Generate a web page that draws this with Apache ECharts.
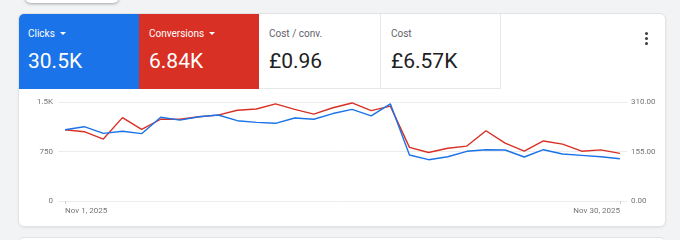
<!DOCTYPE html>
<html>
<head>
<meta charset="utf-8">
<script src="https://cdn.jsdelivr.net/npm/echarts@6/dist/echarts.min.js"></script>
<style>
  html, body { margin: 0; padding: 0; }
  body { width: 680px; height: 240px; background: #f1f3f4; position: relative; overflow: hidden; font-family: Roboto, "Noto Sans", sans-serif; }
  .ghost-top { position: absolute; left: 25px; top: -20px; width: 94px; height: 23px; background: #fff; border-radius: 6px; box-shadow: 0 1px 3px rgba(60,64,67,.45); }
  .ghost-bottom { position: absolute; left: 18px; top: 237px; width: 648px; height: 20px; background: #fff; border: 1px solid #e3e3e3; border-radius: 6px; box-sizing: border-box; }
  .card { position: absolute; left: 18px; top: 13px; width: 648px; height: 214px; background: #fff; border: 1px solid #e3e3e3; border-radius: 6px; box-sizing: border-box; box-shadow: 0 1px 2px rgba(60,64,67,.08); overflow: hidden; }
  .tile { position: absolute; top: -1px; height: 76px; box-sizing: border-box; }
  .tile .lbl { position: absolute; left: 10px; top: 15px; font-size: 10px; line-height: 12px; white-space: nowrap; }
  .tile .val { position: absolute; left: 10px; top: 36px; font-size: 21px; line-height: 24px; white-space: nowrap; }
  .blue { left: -1px; width: 121px; background: #1a73e8; color: #fff; }
  .red { left: 120px; width: 120px; background: #d93025; color: #fff; }
  .white { background: #fff; color: #202124; border-right: 1px solid #e8e8e8; border-bottom: 1px solid #e8e8e8; }
  .white .lbl { color: #5f6368; }
  .arrow { display: inline-block; width: 0; height: 0; margin-left: 5px; vertical-align: 2px; border-left: 3px solid transparent; border-right: 3px solid transparent; border-top: 3px solid #fff; }
  .dot { position: absolute; left: 626px; width: 3px; height: 3px; border-radius: 50%; background: #3c4043; }
  #chart { position: absolute; left: 0; top: 89px; width: 680px; height: 138px; }
</style>
</head>
<body>
<div class="ghost-top"></div>
<div class="ghost-bottom"></div>
<div class="card">
  <div class="tile blue"><div class="lbl">Clicks<span class="arrow"></span></div><div class="val">30.5K</div></div>
  <div class="tile red"><div class="lbl">Conversions<span class="arrow"></span></div><div class="val">6.84K</div></div>
  <div class="tile white" style="left:240px;width:122px;"><div class="lbl">Cost / conv.</div><div class="val">£0.96</div></div>
  <div class="tile white" style="left:362px;width:120px;"><div class="lbl">Cost</div><div class="val">£6.57K</div></div>
  <div class="dot" style="top:18px"></div>
  <div class="dot" style="top:23px"></div>
  <div class="dot" style="top:28px"></div>
</div>
<div id="chart"></div>
<script>
// Nov 1 .. Nov 30, 2025
const days = [];
for (let d = 1; d <= 30; d++) days.push("Nov " + d + ", 2025");

const clicks = [1080, 1126, 1025, 1056, 1020, 1268, 1225, 1277, 1303, 1217,
                1192, 1177, 1257, 1238, 1325, 1389, 1290, 1472, 697, 626,
                671, 753, 777, 773, 667, 777, 712, 692, 671, 641];
const conversions = [223, 217, 194, 261, 224, 256, 256, 264, 269, 284,
                     288, 304, 287, 272, 292, 307, 283, 297, 168, 152,
                     165, 172, 220, 181, 156, 188, 178, 156, 160, 149];

const leftTicks = [0, 750, 1500];
const leftTickLabels = ["0", "750", "1.5K"];
const rightTicks = [0, 155, 310];
const rightTickLabels = ["0.00", "155.00", "310.00"];
const first = 0, last = days.length - 1;

// two bottom x axes on the same scale: one for the left-aligned first date,
// one for the right-aligned last date
function dateAxis(idx, align) {
  return {
    type: "value",
    position: "bottom",
    min: -0.37,
    max: last + 0.37,
    splitLine: { show: false },
    axisLine: { show: false },
    axisTick: { show: true, customValues: [idx], length: 3, lineStyle: { color: "#d0d0d0" } },
    axisLabel: {
      customValues: [idx],
      align: align,
      margin: 6,
      color: "#757575",
      fontSize: 8,
      fontFamily: "Roboto",
      formatter: v => days[v]
    }
  };
}

let myChart = echarts.init(document.getElementById("chart"));
myChart.setOption({
  animation: false,
  grid: { left: 58, right: 53, top: 13, bottom: 26 },
  xAxis: [dateAxis(first, "left"), dateAxis(last, "right")],
  yAxis: [
    {
      type: "value",
      min: 0,
      max: 1500,
      interval: 750,
      axisLine: { show: false },
      axisTick: { show: false },
      splitLine: { lineStyle: { color: "#ececec", width: 1 } },
      axisLabel: {
        margin: 5,
        color: "#757575",
        fontSize: 8,
        fontFamily: "Roboto",
        formatter: v => leftTickLabels[leftTicks.indexOf(v)]
      }
    },
    {
      type: "value",
      min: 0,
      max: 310,
      interval: 155,
      axisLine: { show: false },
      axisTick: { show: false },
      splitLine: { show: false },
      axisLabel: {
        margin: 4,
        color: "#757575",
        fontSize: 8,
        fontFamily: "Roboto",
        formatter: v => rightTickLabels[rightTicks.indexOf(v)]
      }
    }
  ],
  series: [
    {
      name: "Conversions",
      type: "line",
      yAxisIndex: 1,
      showSymbol: false,
      lineStyle: { color: "#d93025", width: 1.4 },
      data: conversions.map((v, i) => [i, v])
    },
    {
      name: "Clicks",
      type: "line",
      yAxisIndex: 0,
      showSymbol: false,
      lineStyle: { color: "#1a73e8", width: 1.4 },
      data: clicks.map((v, i) => [i, v])
    }
  ]
});
</script>
</body>
</html>
